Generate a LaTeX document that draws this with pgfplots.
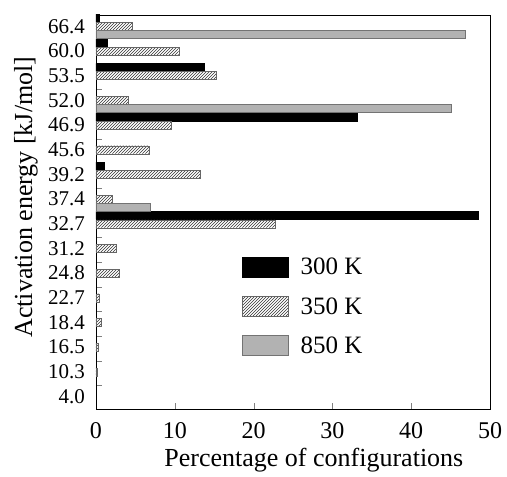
\documentclass[border=0pt]{standalone}
\usepackage{fontspec}
\setmainfont{Liberation Serif}
\usepackage{pgfplots}
\pgfplotsset{compat=1.18}
\usetikzlibrary{patterns}
\begin{document}
\begin{tikzpicture}
\begin{axis}[
  scale only axis, width=394pt, height=394pt,
  xbar, bar width=8pt,
  xmin=0, xmax=50, ymin=-0.51, ymax=15.46,
  axis line style={line width=0.8pt},
  tick align=inside,
  major tick length=6pt,
  xtick={0,10,...,50}, xtick pos=bottom,
  /pgf/number format/assume math mode=true,
  xticklabel style={font=\fontsize{24}{28}\selectfont, anchor=base, yshift=-29.7pt},
  ytick={0.45,1.45,2.45,3.45,4.45,5.45,6.45,7.45,8.45,9.45,10.45,11.45,12.45,13.45,14.45,15.45},
  yticklabels={4.0,10.3,16.5,18.4,22.7,24.8,31.2,32.7,37.4,39.2,45.6,46.9,52.0,53.5,60.0,66.4},
  ytick pos=left,
  yticklabel style={font=\fontsize{21}{24}\selectfont, anchor=east, inner sep=0pt, xshift=-11pt, yshift=-11.1pt},
  xlabel={Percentage of configurations},
  xlabel style={at={(axis description cs:0.553,0)}, anchor=base, yshift=-57.7pt, inner sep=0pt, font=\fontsize{26}{30}\selectfont},
  ylabel={Activation energy [kJ/mol]},
  ylabel style={at={(axis description cs:-0.162,0.5376)}, anchor=base, inner sep=0pt, font=\fontsize{26}{30}\selectfont},
  legend image code/.code={\draw[#1] (0pt,-10pt) rectangle (46pt,10pt);},
  legend style={at={(axis description cs:0.3706,0.388)}, anchor=north west, draw=none, fill=none, inner sep=0pt, row sep=17pt, font=\fontsize{25}{29}\selectfont, /tikz/every odd column/.style={column sep=10pt}},
  legend cell align=left,
]
\addplot[fill=black, draw=black, bar shift=8.25pt] coordinates {
 (0.4,15) (1.4,14) (13.7,13) (33.2,11) (1.1,9) (48.5,7)};
\addplot[pattern=north east lines, pattern color=black!80, draw=black!60, bar shift=0pt] coordinates {
 (4.6,15) (10.5,14) (15.2,13) (4.1,12) (9.5,11) (6.75,10) (13.2,9) (2.1,8) (22.7,7) (2.6,6) (2.9,5) (0.4,4) (0.7,3) (0.3,2) (0.15,1)};
\addplot[fill=black!30, draw=black!55, bar shift=-8.25pt] coordinates {
 (46.9,15) (45.1,12) (6.9,8)};
\legend{300 K, 350 K, 850 K}
\end{axis}
\path[use as bounding box] ([shift={(-96pt,-67pt)}]current axis.south west) rectangle ([shift={(17pt,15pt)}]current axis.north east);
\end{tikzpicture}
\end{document}
